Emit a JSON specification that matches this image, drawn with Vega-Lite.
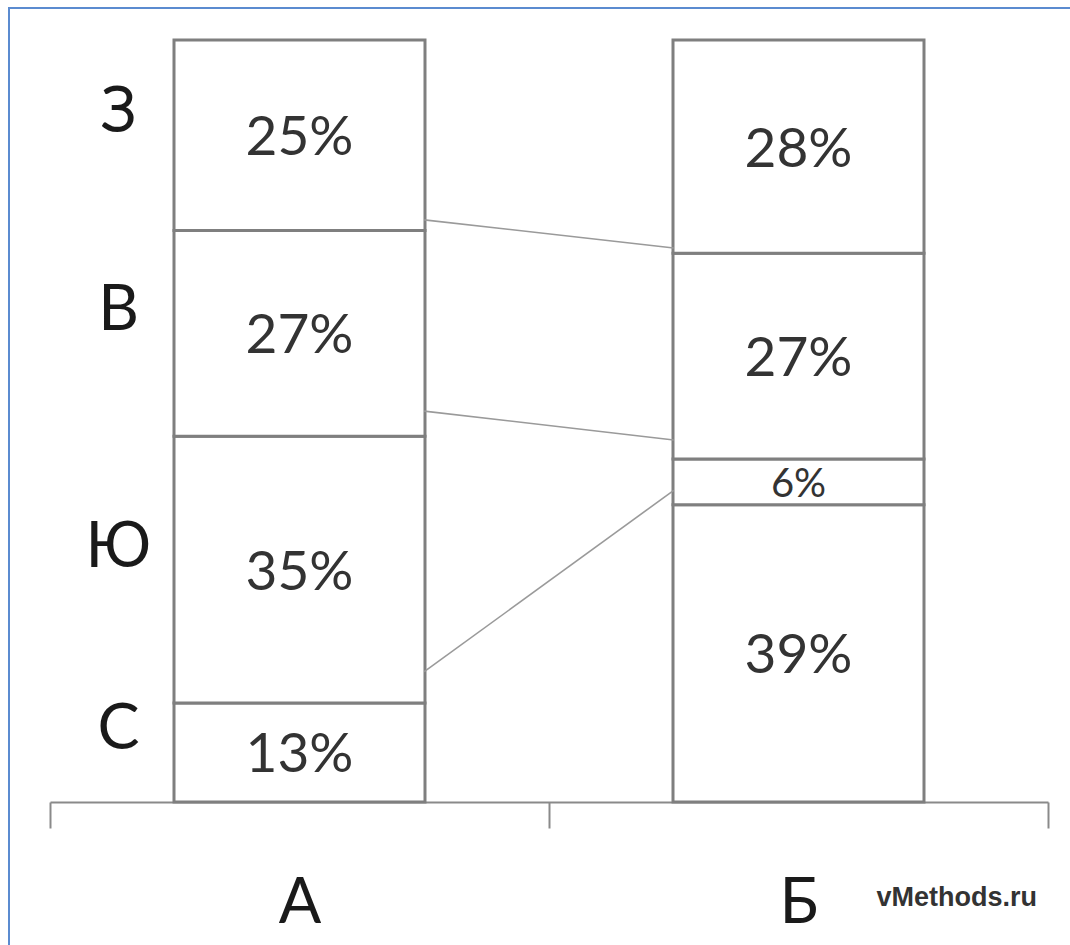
{
  "$schema": "https://vega.github.io/schema/vega-lite/v6.json",
  "width": 1061,
  "height": 937,
  "padding": {"left": 9, "top": 8, "right": 0, "bottom": 0},
  "autosize": {"type": "none"},
  "background": "white",
  "config": {
    "view": {"stroke": "#5b8bd0", "strokeWidth": 2, "strokeDash": [1061, 1998, 937, 10]},
    "font": "Lato"
  },
  "title": {
    "text": "vMethods.ru",
    "orient": "bottom",
    "anchor": "end",
    "frame": "group",
    "font": "Liberation Sans",
    "fontSize": 27,
    "fontWeight": "bold",
    "color": "#333333",
    "dx": -33,
    "dy": -64
  },
  "datasets": {
    "shares": [
      {"cat": "А", "series": "С", "value": 0.13, "order": 1},
      {"cat": "А", "series": "Ю", "value": 0.35, "order": 2},
      {"cat": "А", "series": "В", "value": 0.27, "order": 3},
      {"cat": "А", "series": "З", "value": 0.25, "order": 4},
      {"cat": "Б", "series": "С", "value": 0.39, "order": 1},
      {"cat": "Б", "series": "Ю", "value": 0.06, "order": 2},
      {"cat": "Б", "series": "В", "value": 0.27, "order": 3},
      {"cat": "Б", "series": "З", "value": 0.28, "order": 4}
    ],
    "links": [
      {"link": 1, "cat": "А", "side": "R", "y": 0.764},
      {"link": 1, "cat": "Б", "side": "L", "y": 0.727},
      {"link": 2, "cat": "А", "side": "R", "y": 0.513},
      {"link": 2, "cat": "Б", "side": "L", "y": 0.475},
      {"link": 3, "cat": "А", "side": "R", "y": 0.171},
      {"link": 3, "cat": "Б", "side": "L", "y": 0.409}
    ]
  },
  "resolve": {"scale": {"xOffset": "independent"}},
  "layer": [
    {
      "data": {"name": "shares"},
      "mark": {"type": "bar", "fill": "white", "stroke": "#7f7f7f", "strokeWidth": 3, "width": {"band": 0.503}},
      "encoding": {
        "x": {
          "field": "cat", "type": "nominal", "sort": null,
          "scale": {"domain": ["А", "Б"], "range": [41, 1039], "paddingInner": 0, "paddingOuter": 0},
          "axis": {
            "orient": "bottom", "offset": -143, "title": null, "grid": false,
            "domainColor": "#8a8a8a", "domainWidth": 2,
            "tickColor": "#8a8a8a", "tickWidth": 2, "tickSize": 26, "tickBand": "extent",
            "labelFont": "Lato", "labelFontSize": 63, "labelColor": "#1a1a1a",
            "labelBaseline": "alphabetic", "labelPadding": 94, "labelAngle": 0
          }
        },
        "y": {
          "field": "value", "type": "quantitative", "stack": "zero",
          "scale": {"domain": [0, 1], "range": [794, 32], "nice": false, "zero": true},
          "axis": null
        },
        "detail": {"field": "series"},
        "order": {"field": "order", "type": "quantitative"}
      }
    },
    {
      "data": {"name": "links"},
      "mark": {"type": "line", "stroke": "#9a9a9a", "strokeWidth": 1.6},
      "encoding": {
        "x": {"field": "cat", "type": "nominal", "sort": null},
        "xOffset": {"field": "side", "type": "nominal", "scale": {"type": "point", "domain": ["L", "R"], "padding": 0.5}},
        "y": {"field": "y", "type": "quantitative"},
        "detail": {"field": "link"}
      }
    },
    {
      "data": {"name": "shares"},
      "mark": {"type": "text", "font": "Lato", "color": "#333333", "baseline": "middle", "dy": 3},
      "encoding": {
        "x": {"field": "cat", "type": "nominal", "sort": null},
        "y": {"field": "value", "type": "quantitative", "stack": "zero", "bandPosition": 0.5},
        "order": {"field": "order", "type": "quantitative"},
        "detail": {"field": "series"},
        "text": {"field": "value", "type": "quantitative", "format": ".0%"},
        "size": {"condition": {"test": "datum.value < 0.1", "value": 40}, "value": 55}
      }
    },
    {
      "data": {"name": "shares"},
      "transform": [{"filter": "datum.cat == 'А'"}],
      "mark": {"type": "text", "font": "Lato", "fontSize": 63, "color": "#1a1a1a", "baseline": "middle", "dx": -181, "dy": -22},
      "encoding": {
        "x": {"field": "cat", "type": "nominal", "sort": null},
        "y": {"field": "value", "type": "quantitative", "stack": "zero", "bandPosition": 0.5},
        "order": {"field": "order", "type": "quantitative"},
        "detail": {"field": "series"},
        "text": {"field": "series"}
      }
    }
  ]
}
